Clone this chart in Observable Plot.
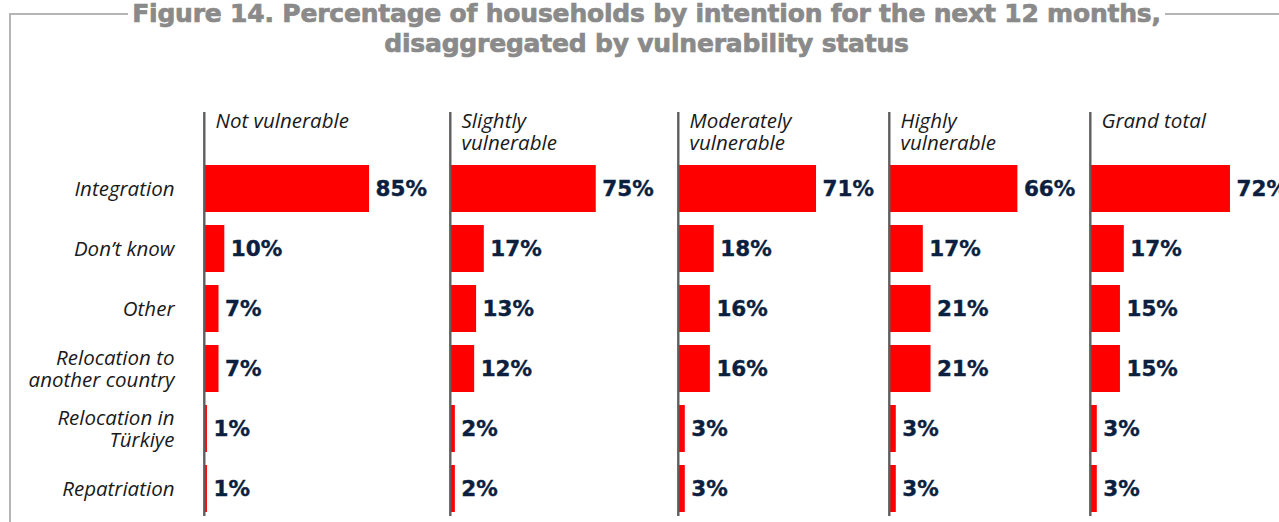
<!DOCTYPE html>
<html>
<head>
<meta charset="utf-8">
<script src="https://cdn.jsdelivr.net/npm/d3@7"></script>
<script src="https://cdn.jsdelivr.net/npm/@observablehq/plot@0.6"></script>
<style>
  html, body { margin: 0; padding: 0; background: #fff; }
  #wrap { position: relative; width: 1279px; height: 522px; overflow: hidden; background: #fff; }
  #frame { position: absolute; left: 9px; top: 13px; width: 1300px; height: 540px;
           border-left: 2px solid #b5b5b5; border-top: 2px solid #b5b5b5; }
  #title { position: absolute; left: 7px; top: -1px; width: 1279px; text-align: center;
           font-family: "DejaVu Sans", sans-serif; font-weight: bold; font-size: 25px;
           line-height: 30px; color: #8a8a8a; -webkit-text-stroke: 0.7px #8a8a8a; letter-spacing: -0.2px; }
  #title span { background: #fff; padding: 0 4px; }
  .panel { position: absolute; top: 0; }
</style>
</head>
<body>
<div id="wrap">
  <div id="frame"></div>
  <div id="title"><span>Figure 14. Percentage of households by intention for the next 12 months,</span><br><span>disaggregated by vulnerability status</span></div>
</div>
<script>
const panels = ["Not vulnerable", "Slightly\nvulnerable", "Moderately\nvulnerable", "Highly\nvulnerable", "Grand total"];
const categories = ["Integration", "Don’t know", "Other", "Relocation to another country", "Relocation in Türkiye", "Repatriation"];
const categoryLabels = ["Integration", "Don’t know", "Other", "Relocation to\nanother country", "Relocation in\nTürkiye", "Repatriation"];
const notVulnerable = [85, 10, 7, 7, 1, 1];
const slightlyVulnerable = [75, 17, 13, 12, 2, 2];
const moderatelyVulnerable = [71, 18, 16, 16, 3, 3];
const highlyVulnerable = [66, 17, 21, 21, 3, 3];
const grandTotal = [72, 17, 15, 15, 3, 3];
const series = [notVulnerable, slightlyVulnerable, moderatelyVulnerable, highlyVulnerable, grandTotal];

// layout (pixel positions of each panel's axis line)
const axisPos = [205, 451, 679, 890, 1091];
const totalWidth = 1279;
const wrap = document.getElementById("wrap");

series.forEach((vals, i) => {
  const ml = i === 0 ? axisPos[0] : 6;
  const right = i < axisPos.length - 1 ? axisPos[i + 1] : totalWidth;
  const width = ml + right - axisPos[i];
  const rows = categories.map((c, j) => ({cat: c, value: vals[j]}));
  const marks = [
    Plot.barX(rows, {x: "value", y: "cat", fill: "#ff0000"}),
    Plot.ruleX([0], {stroke: "#5e5e5e", strokeWidth: 2.4, dx: -1.2}),
    Plot.text(rows, {
      x: "value", y: "cat", text: d => d.value + "%", textAnchor: "start", dx: 6,
      fill: "#0c1f3f", fontSize: 21.5, fontWeight: "bold", fontFamily: "DejaVu Sans",
      stroke: "#0c1f3f", strokeWidth: 0.4
    }),
    Plot.text([panels[i]], {
      frameAnchor: "top-left", lineAnchor: "top", textAnchor: "start", dx: 10, dy: 0,
      text: d => d, fontSize: 20.5, fontStyle: "italic", fontFamily: "Open Sans",
      lineHeight: 1.06, fill: "#1a1a1a"
    })
  ];
  if (i === 0) {
    marks.push(Plot.text(categories, {
      x: 0, y: d => d, text: (d, j) => categoryLabels[j], textAnchor: "end", dx: -31,
      fontSize: 20.5, fontStyle: "italic", fontFamily: "Open Sans", lineHeight: 1.08, fill: "#1a1a1a"
    }));
  }
  const chart = Plot.plot({
    width, height: 522,
    marginLeft: ml, marginRight: 0, marginTop: 112, marginBottom: 6,
    x: {domain: [0, 100], range: [ml, ml + 193], axis: null},
    y: {domain: categories, range: [151.4, 524.6], padding: 0.22, axis: null},
    style: {background: "transparent", overflow: "visible"},
    marks
  });
  chart.classList.add("panel");
  chart.style.left = (axisPos[i] - ml) + "px";
  wrap.appendChild(chart);
});
</script>
</body>
</html>
